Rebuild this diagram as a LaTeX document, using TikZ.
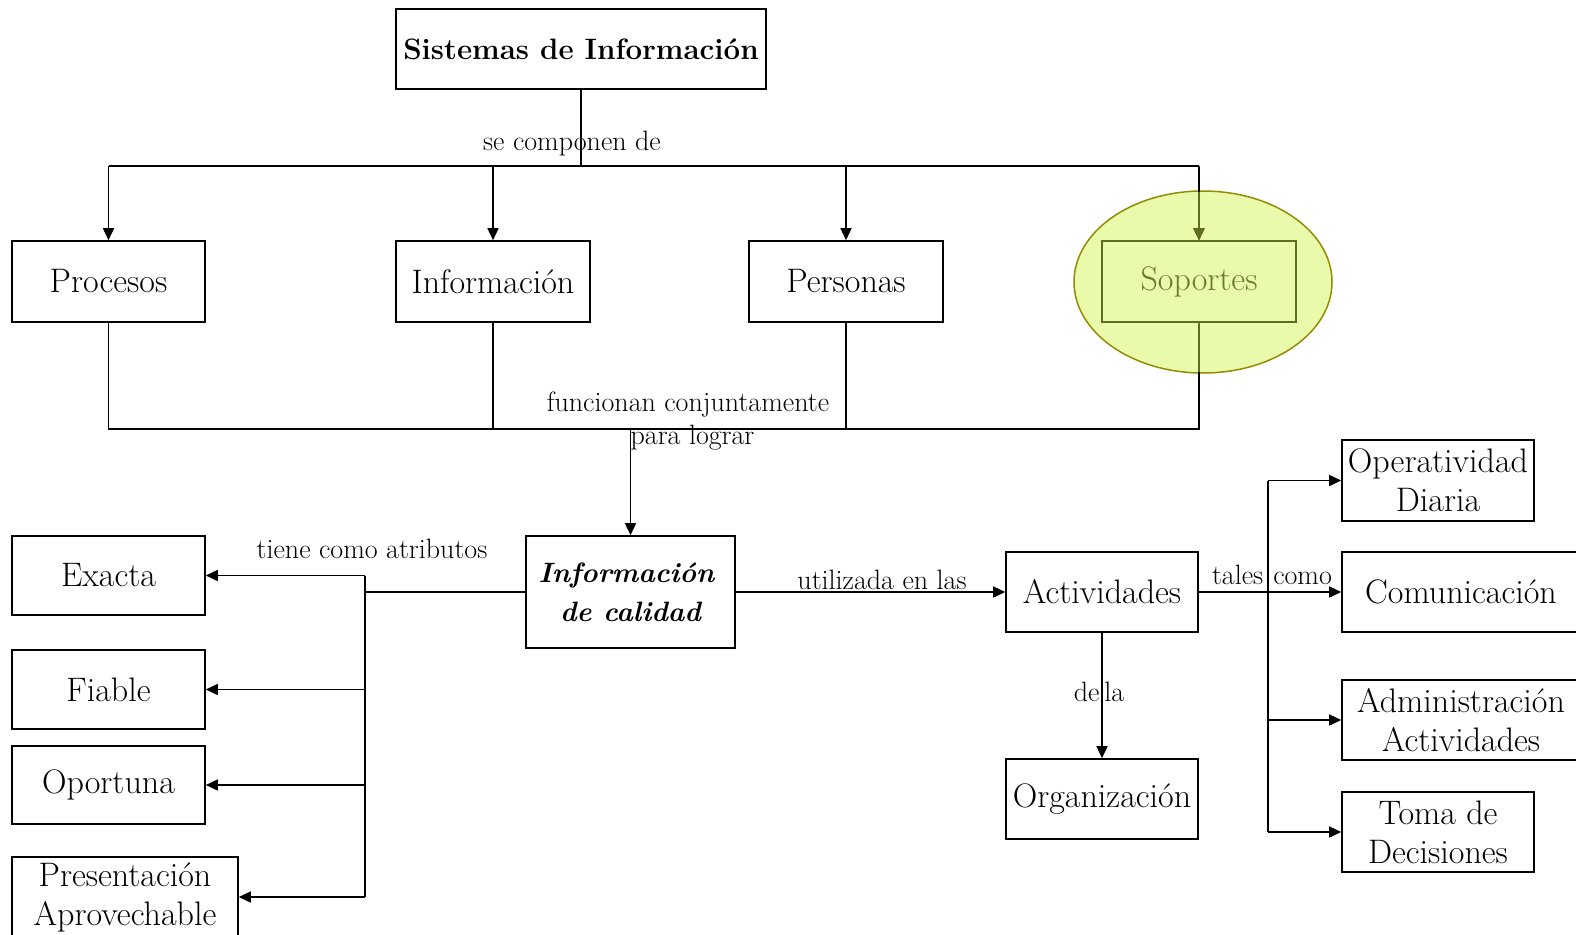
\documentclass[tikz,border=0pt]{standalone}
\usetikzlibrary{arrows.meta,shapes.geometric}
\definecolor{hlfill}{HTML}{E9FAAA}
\definecolor{hldraw}{HTML}{948C00}
\definecolor{olv}{HTML}{5E6E1E}
\definecolor{olvtext}{HTML}{6A7A2C}
\begin{document}
\begin{tikzpicture}[x=1pt,y=-1pt,
  box/.style={draw, line width=1.6pt, inner sep=0pt, align=center, font=\fontsize{34}{39}\selectfont},
  lbl/.style={inner sep=0pt, align=center, font=\fontsize{28}{33}\selectfont},
  ln/.style={line width=1.6pt},
  arr/.style={line width=1.6pt, -{Triangle[length=12pt,width=11pt]}}]
\useasboundingbox (0,0) rectangle (1576,934);
\clip (0,0) rectangle (1576,934);
\fill[white] (0,0) rectangle (1576,934);

% highlight (behind)
\node[ellipse, minimum width=258pt, minimum height=182pt, inner sep=0pt, draw=hldraw, line width=1.5pt, fill=hlfill] (hl) at (1203,282) {};

% top
\node[box, minimum width=370pt, minimum height=80pt, font=\fontsize{29.5}{36}\selectfont\bfseries] (sis) at (581,49) {Sistemas de Información};
\node[box, minimum width=193pt, minimum height=81pt] (proc) at (108.5,281.5) {Procesos};
\node[box, minimum width=194pt, minimum height=81pt] (info) at (493,281.5) {Información};
\node[box, minimum width=194pt, minimum height=81pt] (pers) at (846,281.5) {Personas};
\node[box, minimum width=194pt, minimum height=81pt, draw=olv, text=olvtext] (sop) at (1199,281.5) {Soportes};

\coordinate (h1) at (581,166);
\draw[ln] (sis.south) -- (h1);
\draw[ln] (proc.north |- h1) -- (sop.north |- h1);
\foreach \n in {proc,info,pers,sop} \draw[arr] (\n.north |- h1) -- (\n.north);
\node[lbl] (l1) at (572,144) {se componen de};

\coordinate (h2) at (630.5,429);
\draw[ln] (proc.south) -- (proc.south |- h2) -- (sop.south |- h2) -- (sop.south);
\draw[ln] (info.south) -- (info.south |- h2);
\draw[ln] (pers.south) -- (pers.south |- h2);
\node[lbl] (l2) at (688,421) {funcionan conjuntamente\\\hspace*{9pt}para lograr};

% olive parts of the connectors inside the highlight
\begin{scope}
\clip (1203,282) ellipse [x radius=128pt, y radius=90pt];
\draw[arr, olv] (sop.north |- h1) -- (sop.north);
\draw[ln, olv] (sop.south) -- (sop.south |- h2);
\end{scope}

% center
\node[box, minimum width=209pt, minimum height=112pt, font=\fontsize{28}{39}\selectfont\bfseries\itshape] (cal) at (630.5,592) {\hspace*{-8pt}Información\\de calidad};
\draw[arr] (h2) -- (cal.north);

% left
\node[box, minimum width=193pt, minimum height=79pt] (exa) at (108.5,575.5) {Exacta};
\node[box, minimum width=193pt, minimum height=79pt] (fia) at (108.5,689.5) {Fiable};
\node[box, minimum width=193pt, minimum height=78pt] (opo) at (108.5,785) {Oportuna};
\node[box, minimum width=226pt, minimum height=80pt] (pre) at (125,897) {Presentación\\Aprovechable};
\coordinate (v1) at (365,592);
\draw[ln] (cal.west) -- (v1);
\draw[ln] (exa.east -| v1) -- (pre.east -| v1);
\foreach \n in {exa,fia,opo,pre} \draw[arr] (\n.east -| v1) -- (\n.east);
\node[lbl] (l3) at (372,549) {tiene como atributos};

% right
\node[box, minimum width=192pt, minimum height=80pt] (act) at (1102,592) {Actividades};
\node[box, minimum width=192pt, minimum height=80pt] (org) at (1102,799) {Organización};
\draw[arr] (cal.east) -- (act.west);
\node[lbl] (l4) at (882,580) {utilizada en las};
\draw[arr] (act.south) -- (org.north);
\node[lbl] (l5) at (1099,692) {de\hspace{5pt}la};

\node[box, minimum width=192pt, minimum height=81pt] (ope) at (1438,480.5) {Operatividad\\Diaria};
\node[box, minimum width=238pt, minimum height=80pt] (com) at (1461,592) {Comunicación};
\node[box, minimum width=238pt, minimum height=80pt] (adm) at (1461,720) {Administración\\Actividades};
\node[box, minimum width=192pt, minimum height=80pt] (tom) at (1438,832) {Toma de\\Decisiones};
\coordinate (v2) at (1268,592);
\draw[ln] (ope.west -| v2) -- (tom.west -| v2);
\draw[arr] (act.east) -- (com.west);
\foreach \n in {ope,adm,tom} \draw[arr] (\n.west -| v2) -- (\n.west);
\node[lbl] (l6) at (1272,575) {tales\hspace{10pt}como};
\end{tikzpicture}
\end{document}
